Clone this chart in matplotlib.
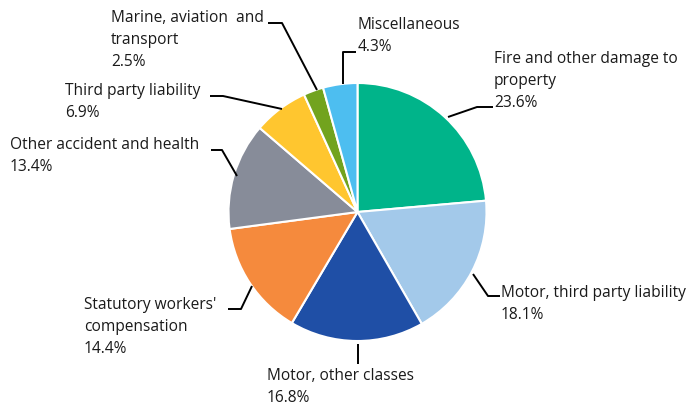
import matplotlib
matplotlib.use("Agg")
import matplotlib.pyplot as plt

categories = ["Fire and other damage to\nproperty", "Motor, third party liability", "Motor, other classes",
              "Statutory workers'\ncompensation", "Other accident and health", "Third party liability",
              "Marine, aviation  and\ntransport", "Miscellaneous"]
values = [23.6, 18.1, 16.8, 14.4, 13.4, 6.9, 2.5, 4.3]
colors = ["#00B48A", "#A3C9EA", "#1F4FA6", "#F58A3D", "#878C99", "#FFC62F", "#72A31E", "#4DBEF0"]

W, H = 693, 406
fig = plt.figure(figsize=(W/100, H/100), dpi=100)
ax = fig.add_axes([0, 0, 1, 1])

cx, cy, r = 357.5, H - 213, 129
ax.pie(values, colors=colors, startangle=90, counterclock=False, center=(cx, cy), radius=r,
       wedgeprops=dict(edgecolor="white", linewidth=1.5), frame=True)
ax.set_xlim(0, W)
ax.set_ylim(0, H)
ax.axis("off")

def P(x, y):
    return (x, H - y)

font = dict(family="Open Sans", fontsize=11.2, color="#1a1a1a", linespacing=1.5)
# label: text top-left (px), leader points (px)
labels = [
    ((494, 51), [(448, 118), (477, 108), (493, 108)]),
    ((501, 285), [(473, 275), (488, 297), (500, 297)]),
    ((267, 368), [(358, 345), (358, 365)]),
    ((84, 297), [(252, 287), (241, 310), (228, 310)]),
    ((10, 137), [(237, 177), (222, 151), (211, 151)]),
    ((65, 83), [(282, 110), (223, 97), (210, 97)]),
    ((111, 10), [(317, 91), (282, 24), (268, 24)]),
    ((358, 17), [(343, 85), (343, 53), (356, 53)]),
]
for (cat, val, ((tx, ty), pts)) in zip(categories, values, labels):
    ax.text(*P(tx, ty), f"{cat}\n{val}%", ha="left", va="top", **font)
    xs = [p[0] for p in pts]
    ys = [H - p[1] for p in pts]
    ax.plot(xs, ys, color="black", lw=1.4, solid_capstyle="butt")

fig.savefig("out.png", dpi=100)
